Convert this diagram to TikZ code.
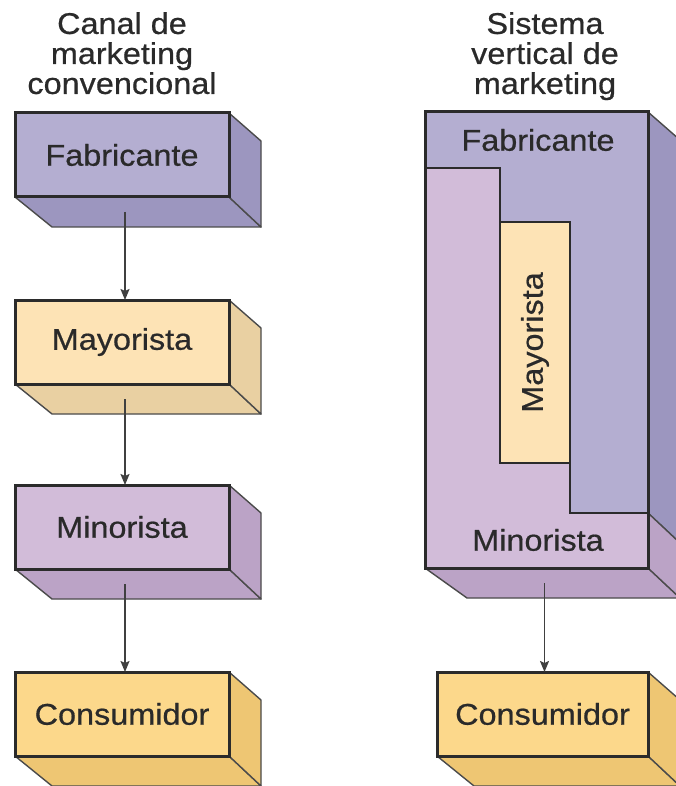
\documentclass[tikz,border=0pt]{standalone}
\usepackage{fontspec}
\setmainfont{Liberation Sans}[FakeStretch=1.08,FakeBold=0.6]
\usetikzlibrary{calc,arrows.meta,backgrounds}
\definecolor{fabF}{HTML}{B4AED1}
\definecolor{fabD}{HTML}{9C96BF}
\definecolor{mayF}{HTML}{FDE3B5}
\definecolor{mayD}{HTML}{E9D0A2}
\definecolor{minF}{HTML}{D2BCD9}
\definecolor{minD}{HTML}{BBA3C6}
\definecolor{conF}{HTML}{FCD88B}
\definecolor{conD}{HTML}{EEC673}
\definecolor{edge}{HTML}{2B2B2B}
\definecolor{txt}{HTML}{2A2A2A}
\tikzset{
  front/.style={draw=edge, line width=3pt, inner sep=0pt, outer sep=0pt,
    minimum width=214pt, minimum height=84pt, text=txt,
    font=\fontsize{30}{30}\selectfont},
  depth/.style={draw=edge!85, line width=1.4pt, line join=round},
  inner/.style={draw=edge, line width=2.2pt, line join=miter},
  lbl/.style={text=txt, font=\fontsize{30}{30}\selectfont, inner sep=0pt},
  title/.style={text=txt, font=\fontsize{30}{30}\selectfont, align=center, inner sep=0pt},
  arr/.style={draw=edge!90, line width=1.6pt, -{Stealth[length=11pt,width=9pt,inset=2pt]}}
}
\begin{document}
\begin{tikzpicture}[x=1pt,y=-1pt]
\useasboundingbox (0,0) rectangle (675,786);

% titles
\node[title, anchor=north] (t1) at (122,12) {Canal de\\marketing\\convencional};
\node[title, anchor=north] (t2) at (545,12) {Sistema\\vertical de\\marketing};

% left column
\node[front, fill=fabF] (fab) at (122,155) {Fabricante};
\node[front, fill=mayF] (may) at (122,342) {Mayorista};
\node[front, fill=minF] (min) at (122,527) {Minorista};
\node[front, fill=conF] (con) at (122,714) {Consumidor};

% right column
\node[draw=edge, line width=3pt, inner sep=0pt, outer sep=0pt, fill=fabF,
  minimum width=223pt, minimum height=456pt] (vms) at (536.5,340) {};
\node[front, fill=conF, minimum width=211pt] (con2) at (542.5,714) {Consumidor};

\begin{scope}[on background layer]
  \fill[white] (0,0) rectangle (675,786);
  \foreach \b/\c in {fab/fabD, may/mayD, min/minD, con/conD, con2/conD}{
    \filldraw[depth, fill=\c] (\b.south west) -- ++(37,30)
      -- ($(\b.south east)+(32,30)$) -- (\b.south east) -- cycle;
    \filldraw[depth, fill=\c] (\b.north east) -- ++(32,28)
      -- ($(\b.south east)+(32,30)$) -- (\b.south east) -- cycle;
  }
  \filldraw[depth, fill=minD] (vms.south west) -- ++(42,30)
    -- ($(vms.south east)+(32,30)$) -- (vms.south east) -- cycle;
  \filldraw[depth, fill=fabD] (vms.north east) -- ++(32,28)
    -- ($(vms.east |- 0,513)+(32,30)$) -- (vms.east |- 0,513) -- cycle;
  \filldraw[depth, fill=minD] (vms.east |- 0,513) -- ++(32,30)
    -- ($(vms.south east)+(32,30)$) -- (vms.south east) -- cycle;
\end{scope}

% inner parts of the vertical system
\filldraw[inner, fill=minF] (vms.west |- 0,168) -- (500,168) -- (500,463) -- (570,463)
  -- (570,513) -- (vms.east |- 0,513) -- (vms.south east) -- (vms.south west) -- cycle;
\node[inner, fill=mayF, rotate=90, minimum width=241pt, minimum height=70pt,
  inner sep=0pt, outer sep=0pt, text=txt, font=\fontsize{30}{30}\selectfont]
  (may2) at (535,342.5) {Mayorista};
\draw[edge, line width=3pt] (vms.north west) rectangle (vms.south east);
\node[lbl] (fab2) at (538,140) {Fabricante};
\node[lbl] (min2) at (538,540) {Minorista};

% arrows
\draw[arr] ($(fab.south)+(3,15)$) -- (may.north -| 125,0);
\draw[arr] ($(may.south)+(3,15)$) -- (min.north -| 125,0);
\draw[arr] ($(min.south)+(3,15)$) -- (con.north -| 125,0);
\draw[arr] ($(con2.north |- vms.south)+(2,15)$) -- ($(con2.north)+(2,0)$);
\end{tikzpicture}
\end{document}
